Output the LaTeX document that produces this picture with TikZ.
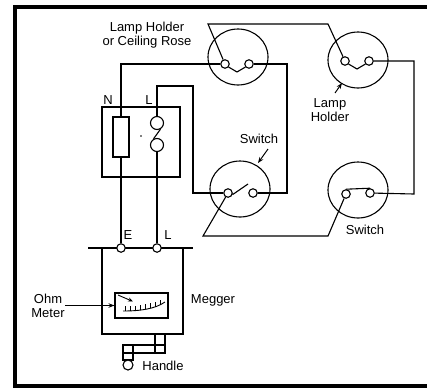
\documentclass[tikz,border=0pt]{standalone}
\usepackage{fontspec}
\setmainfont{Liberation Sans}
\usetikzlibrary{shapes.geometric,arrows.meta}
\begin{document}
\begin{tikzpicture}[x=1pt,y=-1pt,
  wire/.style={line width=1.1pt, line join=miter},
  term/.style={circle,draw,line width=1.1pt,fill=white,inner sep=0pt,minimum size=8.5pt},
  fitting/.style={ellipse,draw,line width=1.1pt,minimum width=60pt,minimum height=56pt,inner sep=0pt},
  box/.style={rectangle,draw,line width=1.1pt,inner sep=0pt},
  lbl/.style={font=\fontsize{13}{14}\selectfont,inner sep=0pt,align=center},
  pointer/.style={line width=1pt,-{Stealth[length=6pt,width=4.5pt]}}
]
\useasboundingbox (0,0) rectangle (427,389);

% outer frame
\draw[line width=4pt] (427,7) -- (15,7) -- (15,386) -- (427,386);

% fittings: lamp holders and switches
\node[fitting] (lh1) at (238,57) {};
\node[fitting] (lh2) at (358,60) {};
\node[fitting] (sw1) at (240,189) {};
\node[fitting] (sw2) at (358,190) {};

% terminals of the fittings
\node[term] (t1a) at (225,64) {};
\node[term] (t1b) at (249,64) {};
\node[term] (t2a) at (345,61) {};
\node[term] (t2b) at (369,61) {};
\node[term] (s1a) at (228,193) {};
\node[term] (s1b) at (253,193) {};
\node[term] (s2a) at (346,194) {};
\node[term] (s2b) at (370,193) {};

% main board with neutral link and fuse
\node[box,minimum width=78pt,minimum height=70pt] (board) at (141,142) {};
\node[box,minimum width=16pt,minimum height=40pt] (nlink) at (121,137) {};
\node[circle,draw,line width=1.1pt,inner sep=0pt,minimum size=13pt] (fu1) at (157,123) {};
\node[circle,draw,line width=1.1pt,inner sep=0pt,minimum size=13pt] (fu2) at (157,145) {};
\draw[wire] (fu1.-60) -- (fu2.120);
\fill (141,136) circle (0.9pt);
\node[lbl] (nlbl) at (108,100) {N};
\node[lbl] (llbl) at (149,100) {L};

% megger
\draw[wire] (88,248) -- (193,248);
\node[box,minimum width=81pt,minimum height=86pt] (megger) at (142.5,291) {};
\node[term] (mE) at (121,248) {};
\node[term] (mL) at (157,248) {};
\node[lbl] (elbl) at (128,235) {E};
\node[lbl] (mllbl) at (168,235) {L};
\node[box,minimum width=53pt,minimum height=25pt] (meter) at (141.5,305.5) {};
\draw[line width=0.9pt,-{Stealth[length=5pt,width=4pt]}] (118,295) -- (133,301.5);
\draw[line width=0.9pt] (123,311) .. controls (140,311) and (155,309) .. (165,302);
\foreach \x/\y in {125/311,130/310.9,135/310.5,140/309.9,145/309,150/308,155/306.6,160/304.5}
  \draw[line width=0.8pt] (\x,\y) -- (\x,\y-5);

% crank handle
\draw[wire] (155,334) rectangle (165,353);
\draw[wire] (123,345) rectangle (165,353);
\draw[wire] (123,345) rectangle (133,360);
\node[circle,draw,line width=1.1pt,inner sep=0pt,minimum size=10pt,fill=white] (grip) at (128,365) {};

% wiring
\draw[wire] (t1a) -- (121,64) -- (nlink);
\draw[wire] (nlink) -- (mE);
\draw[wire] (t1a) -- (208,24) -- (328,24) -- (t2a);
\draw[wire] (t1a.-40) -- (237,72) -- (t1b.-140);
\draw[wire] (t2a.-40) -- (357,69) -- (t2b.-140);
\draw[wire] (t1b) -- (287,64) -- (287,193) -- (s1b);
\draw[wire] (t2b) -- (414,61) -- (414,194) -- (s2b);
\draw[wire] (s1a) -- (203,236) -- (328,236) -- (s2a);
\draw[wire] (s1a) -- (193,193) -- (193,86) -- (157,86) -- (fu1);
\draw[wire] (fu2) -- (mL);
% switch blades
\draw[wire] (s1a.-20) -- (248,184);
\draw[wire] (s2a.north) -- (s2b.north);

% labels
\node[lbl] (rose) at (147,35.5) {Lamp Holder\\or Ceiling Rose};
\node[lbl] (lhlbl) at (330,110) {Lamp\\Holder};
\coordinate (lhtail) at (335,93);
\coordinate (lhtip) at (342,83);
\draw[pointer] (lhtail) -- (lhtip);
\node[lbl] (swlbl1) at (259,139) {Switch};
\coordinate (swtail) at (268,149);
\coordinate (swtip) at (258,163);
\draw[pointer] (swtail) -- (swtip);
\node[lbl] (swlbl2) at (365,230) {Switch};
\node[lbl] (ohmlbl) at (48,305.5) {Ohm\\Meter};
\draw[pointer] (ohmlbl.east) -- (meter.west);
\node[lbl] (meglbl) at (213,300) {Megger};
\node[lbl] (hlbl) at (163,366) {Handle};
\end{tikzpicture}
\end{document}
